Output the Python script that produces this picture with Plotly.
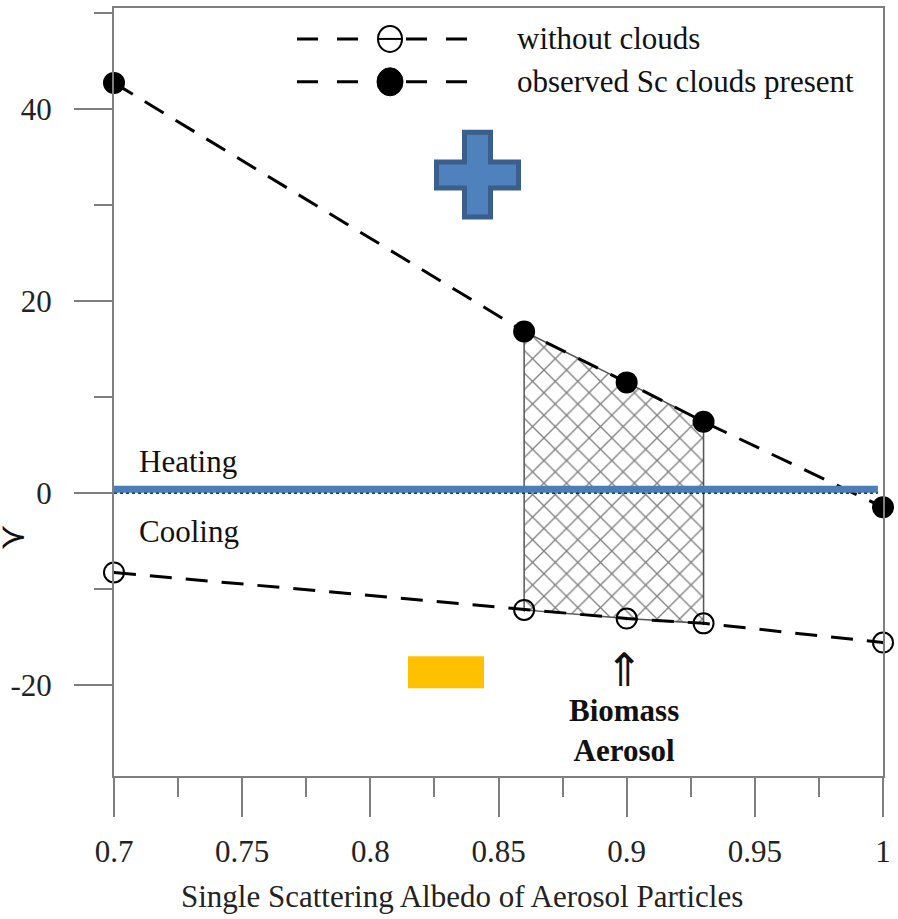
import plotly.graph_objects as go

# Single scattering albedo of the aerosol and the resulting forcing (W m-2)
ssa = [0.7, 0.86, 0.9, 0.93, 1.0]
forcing_clear = [-8.3, -12.2, -13.1, -13.6, -15.6]   # without clouds
forcing_sc = [42.7, 16.8, 11.5, 7.4, -1.5]           # observed Sc clouds present
biomass_idx = [1, 2, 3]                               # biomass aerosol range 0.86-0.93

x_ticks = [0.7, 0.75, 0.8, 0.85, 0.9, 0.95, 1.0]
x_tick_text = ["0.7", "0.75", "0.8", "0.85", "0.9", "0.95", "1"]
y_ticks = [-20, 0, 20, 40]
y_tick_text = ["-20", "0", "20", "40"]

series_names = ["without clouds", "observed Sc clouds present"]

W, H = 898, 919
ML, MR, MT, MB = 114, 15, 6, 143
X_RANGE = [0.7, 1.0]
Y_RANGE = [-29.5, 50.5]
FONT = "Liberation Serif"
FS = 31
AX = "#7f7f7f"
TXT = "#111111"

pw = W - ML - MR
ph = H - MT - MB


def px_x(px):
    """pixel column -> paper x"""
    return (px - ML) / pw


def px_y(py):
    """pixel row -> paper y"""
    return (H - MB - py) / ph


fig = go.Figure()

# hatched band between the two curves over the biomass range
band_x = [ssa[i] for i in biomass_idx] + [ssa[i] for i in reversed(biomass_idx)]
band_y = [forcing_sc[i] for i in biomass_idx] + [forcing_clear[i] for i in reversed(biomass_idx)]
fig.add_trace(go.Scatter(
    x=band_x + band_x[:1], y=band_y + band_y[:1],
    mode="lines", fill="toself", fillcolor="rgba(0,0,0,0)",
    fillpattern=dict(shape="x", size=16, solidity=0.16, fgcolor="#000000", bgcolor="white"),
    line=dict(color="#555555", width=1.5),
    hoverinfo="skip", showlegend=False,
))

fig.add_trace(go.Scatter(
    x=ssa, y=forcing_clear, mode="lines+markers", name=series_names[0],
    line=dict(color="black", width=3, dash="22px,14px"),
    marker=dict(symbol="circle-open-dot", size=20, color="black", line=dict(width=2, color="black")),
    cliponaxis=False, showlegend=False,
))
fig.add_trace(go.Scatter(
    x=ssa, y=forcing_sc, mode="lines+markers", name=series_names[1],
    line=dict(color="black", width=3, dash="22px,14px"),
    marker=dict(symbol="circle", size=22, color="black"),
    cliponaxis=False, showlegend=False,
))

shapes = []
# zero line: dotted black under a thick blue bar
shapes.append(dict(type="line", xref="x", yref="y", x0=0.7, x1=0.998, y0=0, y1=0,
                   line=dict(color="black", width=2, dash="dot"), layer="above"))
shapes.append(dict(type="line", xref="x", yref="y", x0=0.6985, x1=0.998, y0=0.38, y1=0.38,
                   line=dict(color="#4a7ebb", width=7), layer="above"))

# orange "minus" box
shapes.append(dict(type="rect", xref="paper", yref="paper",
                   x0=px_x(408), x1=px_x(484), y0=px_y(688), y1=px_y(656),
                   fillcolor="#FFC000", line=dict(width=0), layer="above"))

# blue "plus" sign
v0, v1, h0, h1 = 464.5, 490.5, 436.5, 518.5
t0, t1, m0, m1 = 130.5, 215.5, 160.5, 186.5
pts = [(v0, t0), (v1, t0), (v1, m0), (h1, m0), (h1, m1), (v1, m1), (v1, t1),
       (v0, t1), (v0, m1), (h0, m1), (h0, m0), (v0, m0)]
path = "M " + " L ".join(f"{px_x(a):.5f},{px_y(b):.5f}" for a, b in pts) + " Z"
shapes.append(dict(type="path", xref="paper", yref="paper", path=path,
                   fillcolor="#4F81BD", line=dict(color="#3A5F8C", width=5), layer="above"))

# legend samples
for row_y in (37, 80):
    for a, b in ((297, 360), (406, 470)):
        shapes.append(dict(type="line", xref="paper", yref="paper",
                           x0=px_x(a), x1=px_x(b), y0=px_y(row_y), y1=px_y(row_y),
                           line=dict(color="black", width=3, dash="21px,19px")))
cx = px_x(390)
shapes.append(dict(type="circle", xref="paper", yref="paper", xsizemode="pixel", ysizemode="pixel",
                   xanchor=cx, yanchor=px_y(37), x0=-12, x1=12, y0=-13, y1=13,
                   line=dict(color="black", width=2), fillcolor="white"))
shapes.append(dict(type="line", xref="paper", yref="paper", xsizemode="pixel", ysizemode="pixel",
                   xanchor=cx, yanchor=px_y(37), x0=-12, x1=12, y0=0, y1=0,
                   line=dict(color="black", width=2)))
shapes.append(dict(type="circle", xref="paper", yref="paper", xsizemode="pixel", ysizemode="pixel",
                   xanchor=cx, yanchor=px_y(80), x0=-13, x1=13, y0=-14, y1=14,
                   line=dict(color="black", width=1), fillcolor="black"))

annotations = [
    dict(text=series_names[0], x=px_x(515), y=px_y(37), xanchor="left", yanchor="middle"),
    dict(text=series_names[1], x=px_x(515), y=px_y(80), xanchor="left", yanchor="middle"),
    dict(text="Heating", x=px_x(137), y=px_y(461), xanchor="left", yanchor="middle"),
    dict(text="Cooling", x=px_x(137), y=px_y(531), xanchor="left", yanchor="middle"),
    dict(text="\u21d1", x=px_x(624), y=px_y(670), xanchor="center", yanchor="middle",
         font=dict(size=46, family="DejaVu Sans", color=TXT)),
    dict(text="<b>Biomass</b><br><b>Aerosol</b>", x=px_x(624), y=px_y(730),
         xanchor="center", yanchor="middle", font=dict(size=31, family=FONT, color=TXT)),
    dict(text="\u227b", x=px_x(14), y=px_y(535), xanchor="center", yanchor="middle",
         font=dict(size=34, family="DejaVu Sans", color=TXT)),
    dict(text="Single Scattering Albedo of Aerosol Particles", x=px_x(462), y=px_y(897),
         xanchor="center", yanchor="middle", font=dict(size=FS, family=FONT, color="#222")),
]
for a in annotations:
    a.setdefault("font", dict(size=FS, family=FONT, color=TXT))
    a.update(xref="paper", yref="paper", showarrow=False)

fig.update_layout(
    width=W, height=H, autosize=False,
    margin=dict(l=ML, r=MR, t=MT, b=MB),
    paper_bgcolor="white", plot_bgcolor="white",
    font=dict(family=FONT, size=FS, color="#222"),
    shapes=shapes, annotations=annotations,
    showlegend=False,
    xaxis=dict(
        range=X_RANGE, showgrid=False, zeroline=False,
        showline=True, linecolor=AX, linewidth=2, mirror=True,
        tickmode="array", tickvals=x_ticks, ticktext=x_tick_text,
        ticks="outside", ticklen=39, tickwidth=2, tickcolor=AX,
        ticklabelstandoff=8,
        tickfont=dict(size=FS, family=FONT, color="#222"),
        minor=dict(tickmode="array",
                   tickvals=[round(v + 0.025, 3) for v in x_ticks[:-1]],
                   ticks="outside", ticklen=19, tickwidth=2, tickcolor=AX),
    ),
    yaxis=dict(
        range=Y_RANGE, showgrid=False, zeroline=False,
        showline=True, linecolor=AX, linewidth=2, mirror=True,
        tickmode="array", tickvals=y_ticks, ticktext=y_tick_text,
        ticks="outside", ticklen=38, tickwidth=2, tickcolor=AX,
        ticklabelstandoff=16,
        tickfont=dict(size=FS, family=FONT, color="#222"),
        minor=dict(tickmode="array", tickvals=[v + 10 for v in y_ticks] + [-30],
                   ticks="outside", ticklen=18, tickwidth=2, tickcolor=AX),
    ),
)

fig.write_html("out.html")
